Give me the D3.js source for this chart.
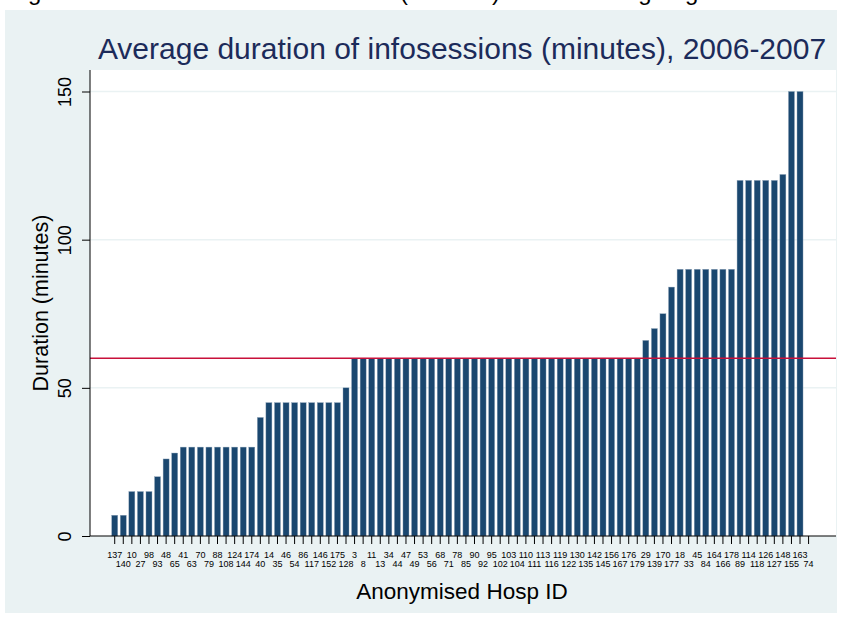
<!DOCTYPE html>
<html>
<head>
<meta charset="utf-8">
<script src="https://cdn.jsdelivr.net/npm/d3@7"></script>
<style>
  html, body { margin: 0; padding: 0; background: #ffffff; }
  svg { display: block; }
  text { font-family: "Liberation Sans", Arial, Helvetica, sans-serif; }
</style>
</head>
<body>
<svg id="chart" width="843" height="619"></svg>
<script>
// ---- data ----
const hospIds = ["137","140","10","27","98","93","48","65","41","63","70","79","88","108","124","144","174","40",
  "14","35","46","54","86","117","146","152","175","128","3","8","11","13","34","44","47","49","53","56","68","71",
  "78","85","90","92","95","102","103","104","110","111","113","116","119","122","130","135","142","145","156","167",
  "176","179","29","139","170","177","18","33","45","84","164","166","178","89","114","118","126","127","148","155","163","74"];
const durations = [7,7,15,15,15,20,26,28,30,30,30,30,30,30,30,30,30,40,
  45,45,45,45,45,45,45,45,45,50,60,60,60,60,60,60,60,60,60,60,60,60,
  60,60,60,60,60,60,60,60,60,60,60,60,60,60,60,60,60,60,60,60,
  60,60,66,70,75,84,90,90,90,90,90,90,90,120,120,120,120,120,122,150,150,null];
const yTicks = [0, 50, 100, 150];
const referenceLine = 60;
const titleText = "Average duration of infosessions (minutes), 2006-2007";
const xTitle = "Anonymised Hosp ID";
const yTitle = "Duration (minutes)";

// ---- layout ----
const svg = d3.select("#chart");
const plot = { left: 90, right: 836, top: 70, bottom: 536 };

// partially visible caption line above the figure (cut off by the page edge, as in the source)
const cap = svg.append("g").attr("font-size", 24).attr("fill", "#000");
cap.append("text").attr("x", 8).attr("y", 0).text("Figure");
cap.append("text").attr("x", 400).attr("y", 0).text("(minutes)");
cap.append("text").attr("x", 573).attr("y", 0).text("ranking of g");

// outer panel
svg.append("rect").attr("x", 5).attr("y", 10).attr("width", 832).attr("height", 603).attr("fill", "#eaf2f3");
// plot region
svg.append("rect").attr("x", plot.left).attr("y", plot.top)
  .attr("width", plot.right - plot.left).attr("height", plot.bottom - plot.top).attr("fill", "#ffffff");

const x = d3.scaleBand().domain(hospIds).range([90, 833.3]).paddingInner(0.3).paddingOuter(2.535);
const y = d3.scaleLinear().domain([0, 150]).range([536, 91.5]);

// gridlines
svg.append("g").selectAll("line").data(yTicks.filter(d => d > 0)).join("line")
  .attr("x1", plot.left).attr("x2", plot.right)
  .attr("y1", d => y(d)).attr("y2", d => y(d))
  .attr("stroke", "#eaf2f3").attr("stroke-width", 1.5);

// bars
const data = hospIds.map((id, i) => ({ id, v: durations[i] }));
svg.append("g").selectAll("rect").data(data.filter(d => d.v != null)).join("rect")
  .attr("x", d => x(d.id)).attr("width", x.bandwidth())
  .attr("y", d => y(d.v)).attr("height", d => y(0) - y(d.v))
  .attr("fill", "#1a476f").attr("stroke", "#8ea3b8").attr("stroke-width", 0.4);

// reference line
svg.append("line").attr("x1", plot.left).attr("x2", plot.right)
  .attr("y1", y(referenceLine)).attr("y2", y(referenceLine))
  .attr("stroke", "#c8103a").attr("stroke-width", 1.6);

// x axis
const xAxis = svg.append("g").attr("transform", `translate(0,${plot.bottom})`)
  .call(d3.axisBottom(x).tickSize(8).tickPadding(3));
xAxis.select(".domain").remove();
xAxis.selectAll(".tick line").attr("stroke", "#000").attr("stroke-width", 1);
xAxis.selectAll(".tick text").attr("font-size", 9).attr("fill", "#000")
  .attr("font-family", "Liberation Sans, Arial, sans-serif")
  .attr("dy", (d, i) => i % 2 === 0 ? "0.71em" : "1.71em")
  .attr("y", 16);
svg.append("line").attr("x1", plot.left).attr("x2", plot.right)
  .attr("y1", plot.bottom).attr("y2", plot.bottom).attr("stroke", "#000").attr("stroke-width", 1);

// y axis
const yAxis = svg.append("g").attr("transform", `translate(${plot.left},0)`)
  .call(d3.axisLeft(y).tickValues(yTicks).tickSize(8).tickPadding(4));
yAxis.select(".domain").remove();
yAxis.selectAll(".tick line").attr("stroke", "#000");
yAxis.selectAll(".tick text").attr("font-size", 18).attr("fill", "#000")
  .attr("font-family", "Liberation Sans, Arial, sans-serif")
  .attr("text-anchor", "middle").attr("transform", "rotate(-90)")
  .attr("x", 0).attr("y", -19).attr("dy", "0");
svg.append("line").attr("x1", plot.left).attr("x2", plot.left)
  .attr("y1", plot.top).attr("y2", plot.bottom).attr("stroke", "#000").attr("stroke-width", 1);

// titles
svg.append("text").attr("x", 462).attr("y", 59).attr("text-anchor", "middle")
  .attr("font-size", 30).attr("fill", "#1c2b5a").text(titleText);
svg.append("text").attr("x", 462).attr("y", 599).attr("text-anchor", "middle")
  .attr("font-size", 22.5).attr("fill", "#000").text(xTitle);
svg.append("text").attr("transform", `translate(48,303) rotate(-90)`).attr("text-anchor", "middle")
  .attr("font-size", 21.5).attr("fill", "#000").text(yTitle);
</script>
</body>
</html>
